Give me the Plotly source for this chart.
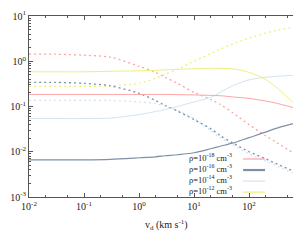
import plotly.graph_objects as go

# velocity grid (km/s)
v_d = [0.01, 0.03, 0.1, 0.3, 1, 2, 3, 5, 10, 20, 30, 50, 100, 200, 300, 630]

# solid curves
rho18_solid = [0.185, 0.185, 0.185, 0.185, 0.185, 0.185, 0.185, 0.183, 0.180, 0.176, 0.173, 0.163, 0.151, 0.132, 0.120, 0.095]
rho16_solid = [0.00664, 0.00664, 0.00664, 0.00681, 0.00736, 0.00774, 0.00815, 0.00858, 0.0095, 0.01166, 0.01325, 0.01545, 0.0205, 0.0271, 0.0325, 0.0419]
rho14_solid = [0.0541, 0.0541, 0.0541, 0.0555, 0.0664, 0.0774, 0.0858, 0.100, 0.126, 0.158, 0.205, 0.286, 0.388, 0.441, 0.464, 0.489]
rho12_solid = [0.585, 0.585, 0.585, 0.600, 0.615, 0.631, 0.647, 0.664, 0.681, 0.699, 0.699, 0.681, 0.570, 0.398, 0.278, 0.123]

# dotted curves
rho18_dot = [1.43, 1.43, 1.36, 1.23, 0.774, 0.57, 0.44, 0.325, 0.205, 0.143, 0.111, 0.0736, 0.0398, 0.0227, 0.0167, 0.0095]
rho16_dot = [0.341, 0.341, 0.325, 0.286, 0.195, 0.136, 0.105, 0.0794, 0.0514, 0.0325, 0.0227, 0.0158, 0.0100, 0.00699, 0.00555, 0.00379]
rho14_dot = [0.136, 0.136, 0.136, 0.136, 0.126, 0.117, 0.100, 0.0815, 0.054, 0.0293, 0.0205, 0.0143, 0.00903, 0.0063, 0.0050, 0.00341]
rho12_dot = [0.278, 0.278, 0.278, 0.286, 0.325, 0.419, 0.514, 0.664, 1.0, 1.468, 1.848, 2.387, 3.25, 4.19, 4.76, 5.7]

labels = ["ρ=10<sup>-18</sup> cm<sup>-3</sup>", "ρ=10<sup>-16</sup> cm<sup>-3</sup>",
          "ρ=10<sup>-14</sup> cm<sup>-3</sup>", "ρ=10<sup>-12</sup> cm<sup>-3</sup>"]
colors = ["#ffa3a3", "#7d91a6", "#d3e3f3", "#eef07c"]
solids = [rho18_solid, rho16_solid, rho14_solid, rho12_solid]
dots = [rho18_dot, rho16_dot, rho14_dot, rho12_dot]

x_tickvals = [0.01, 0.1, 1, 10, 100]
x_ticktext = ["10<sup>-2</sup>", "10<sup>-1</sup>", "10<sup>0</sup>", "10<sup>1</sup>", "10<sup>2</sup>"]
y_tickvals = [0.001, 0.01, 0.1, 1, 10]
y_ticktext = ["10<sup>-3</sup>", "10<sup>-2</sup>", "10<sup>-1</sup>", "10<sup>0</sup>", "10<sup>1</sup>"]

FONT = "Liberation Serif, Times New Roman, serif"
TXT = "#222"
AX = "#555"

fig = go.Figure()
order = [2, 3, 0, 1]
for i in order:
    fig.add_trace(go.Scatter(x=v_d, y=dots[i], mode="lines", showlegend=False,
                             line=dict(color=colors[i], width=1.3, dash="2px,3px",
                                       shape="spline", smoothing=0.8)))
for i in order:
    fig.add_trace(go.Scatter(x=v_d, y=solids[i], mode="lines", showlegend=False,
                             line=dict(color=colors[i], width=[1.0, 1.2, 1.0, 1.0][i],
                                       shape="spline", smoothing=0.8)))

# manual legend: one multi-line text block, line samples to its right
fig.add_annotation(xref="paper", yref="paper", x=0.775, y=0.127, text="<br>".join(labels),
                   showarrow=False, xanchor="right", yanchor="middle", align="right",
                   font=dict(family=FONT, size=8.5, color=TXT))
row_y = [0.21, 0.149, 0.088, 0.027]
for i in range(4):
    fig.add_shape(type="line", xref="paper", yref="paper", x0=0.811, x1=0.894,
                  y0=row_y[i], y1=row_y[i],
                  line=dict(color=colors[i], width=[1.2, 2.2, 1.2, 1.2][i]))

# x axis title
fig.add_annotation(xref="paper", yref="paper", x=0.52, y=-0.155,
                   text="v<sub>d</sub> (km s<sup>-1</sup>)", showarrow=False,
                   xanchor="center", yanchor="middle", font=dict(family=FONT, size=10, color=TXT))

minor_x = [m * 10 ** e for e in range(-2, 3) for m in (2, 5)]
minor_y = [m * 10 ** e for e in range(-3, 1) for m in range(2, 10)]

fig.update_xaxes(type="log", range=[-2, 2.8], tickvals=x_tickvals, ticktext=x_ticktext,
                 ticks="inside", ticklen=4, tickcolor=AX, showline=True, linecolor=AX,
                 linewidth=1, mirror="ticks", showgrid=False, zeroline=False, automargin=False,
                 minor=dict(tickvals=minor_x, ticks="inside", ticklen=2, tickcolor=AX, showgrid=False),
                 tickfont=dict(family=FONT, size=10, color=TXT))
fig.update_yaxes(type="log", range=[-3, 1], tickvals=y_tickvals, ticktext=y_ticktext,
                 ticks="inside", ticklen=4, tickcolor=AX, showline=True, linecolor=AX,
                 linewidth=1, mirror=False, showgrid=False, zeroline=False, automargin=False,
                 minor=dict(tickvals=minor_y, ticks="inside", ticklen=2, tickcolor=AX, showgrid=False),
                 tickfont=dict(family=FONT, size=10, color=TXT))

fig.update_layout(width=293, height=242, margin=dict(l=29, r=0, t=16, b=45, autoexpand=False),
                  paper_bgcolor="white", plot_bgcolor="white", showlegend=False)

fig.write_html("out.html", config={"displayModeBar": False},
               post_script="document.body.style.margin='0';document.body.style.overflow='hidden';")
